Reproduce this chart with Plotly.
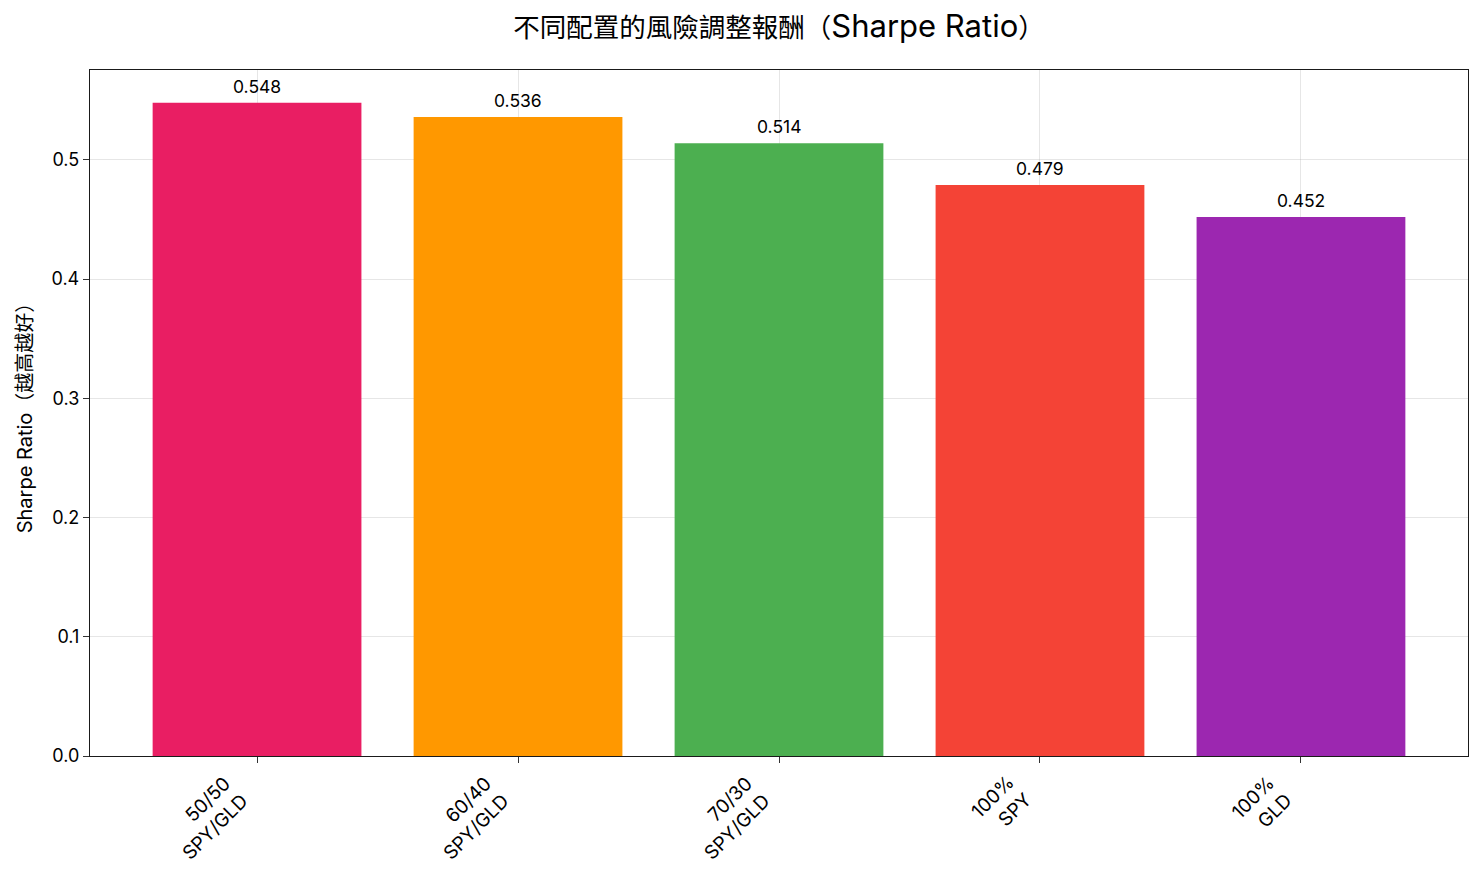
import plotly.graph_objects as go

categories = ["50/50<br>SPY/GLD", "60/40<br>SPY/GLD", "70/30<br>SPY/GLD", "100%<br>SPY", "100%<br>GLD"]
sharpe = [0.548, 0.536, 0.514, 0.479, 0.452]
colors = ["#E91E63", "#FF9800", "#4CAF50", "#F44336", "#9C27B0"]
value_labels = [f"{v:.3f}" for v in sharpe]

FONT = "Inter, Noto Sans CJK TC, sans-serif"

x_idx = list(range(len(categories)))

fig = go.Figure()
fig.add_trace(go.Bar(
    x=x_idx, y=sharpe, marker=dict(color=colors, line=dict(width=0)),
    width=0.8, showlegend=False, hoverinfo="skip",
))

for xi, v, lab in zip(x_idx, sharpe, value_labels):
    fig.add_annotation(x=xi, y=v, text=lab, showarrow=False, yanchor="bottom",
                       yshift=4, font=dict(family=FONT, size=17.5, color="#000"))

for xi, lab in zip(x_idx, categories):
    fig.add_annotation(x=xi, y=0, yref="paper", text=lab, showarrow=False,
                       textangle=-45, align="right", xanchor="right", yanchor="top",
                       xshift=-1, yshift=-13,
                       font=dict(family=FONT, size=19, color="#000"))

axis_common = dict(
    showline=True, linecolor="#1a1a1a", linewidth=1.3, mirror=True,
    ticks="outside", ticklen=6, tickwidth=1.3, tickcolor="#333",
    showgrid=True, gridcolor="rgba(176,176,176,0.32)", gridwidth=1,
    zeroline=False, layer="above traces",
    tickfont=dict(family=FONT, size=18, color="#000"),
)

title_text = ("不同配置的風險調整報酬（<span style=\"font-size:31px\">Sharpe Ratio</span>）")

fig.update_layout(
    width=1483, height=881,
    margin=dict(l=90, r=15, t=70, b=125),
    paper_bgcolor="white", plot_bgcolor="white",
    title=dict(text=title_text, x=0.5, xref="paper", xanchor="center",
               y=1 - 28 / 881, yanchor="middle",
               font=dict(family=FONT, size=26.5, color="#000")),
    xaxis=dict(**axis_common, tickmode="array", tickvals=x_idx, ticktext=["" for _ in x_idx],
               range=[-0.64, 4.64]),
    yaxis=dict(**axis_common, range=[0, 0.5754], dtick=0.1, tickformat=".1f",
               title=dict(text="Sharpe Ratio（越高越好）", standoff=13,
                          font=dict(family=FONT, size=20, color="#000"))),
)

fig.write_html("out.html")
